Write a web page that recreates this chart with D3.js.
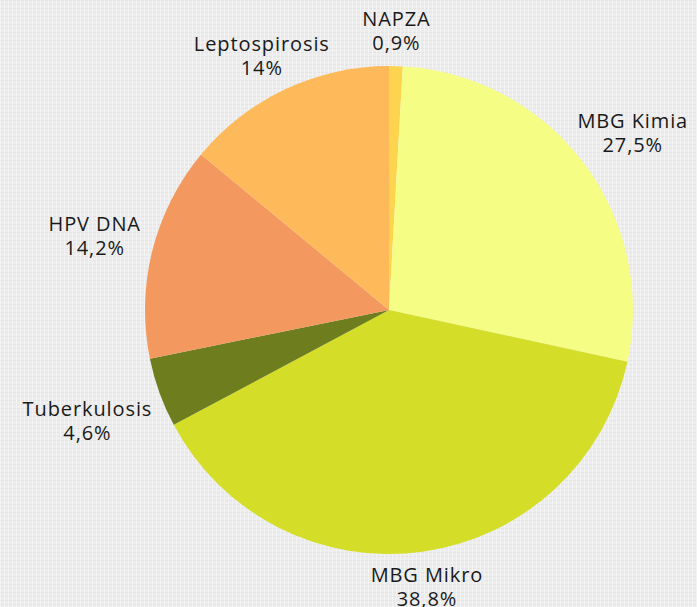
<!DOCTYPE html>
<html>
<head>
<meta charset="utf-8">
<script src="https://cdn.jsdelivr.net/npm/d3@7"></script>
<style>
  html, body { margin: 0; padding: 0; background: #ececec; }
  #chart { width: 697px; height: 607px; }
  text { font-family: "Open Sans", "DejaVu Sans", sans-serif; fill: #1a1a1a; }
</style>
</head>
<body>
<div id="chart"></div>
<script>
// slices in drawing order, clockwise from 12 o'clock
const labels = ["NAPZA", "MBG Kimia", "MBG Mikro", "Tuberkulosis", "HPV DNA", "Leptospirosis"];
const values = [0.9, 27.5, 38.8, 4.6, 14.2, 14];
const pctText = ["0,9%", "27,5%", "38,8%", "4,6%", "14,2%", "14%"];
const colors = ["#fed44f", "#f5fd84", "#d4de28", "#6e7d1d", "#f3995f", "#fdb95a"];

let w = 697, h = 607;
let cx = 389, cy = 310, r = 244;

var svg = d3.select("#chart")
  .append("svg")
  .attr("width", w)
  .attr("height", h);

// paper-ish background texture
var defs = svg.append("defs");
var pat = defs.append("pattern")
  .attr("id", "paper")
  .attr("width", 4).attr("height", 4)
  .attr("patternUnits", "userSpaceOnUse");
pat.append("rect").attr("width", 4).attr("height", 4).attr("fill", "#ededed");
pat.append("rect").attr("width", 4).attr("height", 1).attr("fill", "#e4e4e4");
pat.append("rect").attr("width", 1).attr("height", 4).attr("fill", "#f3f3f3");
svg.append("rect").attr("width", w).attr("height", h).attr("fill", "url(#paper)");

var data = labels.map((l, i) => ({label: l, value: values[i], pct: pctText[i], color: colors[i]}));

var pie = d3.pie().sort(null).value(d => d.value);
var arc = d3.arc().innerRadius(0).outerRadius(r);

var g = svg.append("g").attr("transform", `translate(${cx},${cy})`);

var arcs = pie(data);

g.selectAll("path.slice")
  .data(arcs)
  .enter().append("path")
  .attr("class", "slice")
  .attr("d", arc)
  .attr("fill", d => d.data.color);

// labels outside the pie
let fs = 20, lh = 24, R = 258;
arcs.forEach(a => {
  let mid = (a.startAngle + a.endAngle) / 2;
  let s = Math.sin(mid), c = -Math.cos(mid);
  var t = g.append("text")
    .attr("text-anchor", "middle")
    .style("font-size", fs + "px")
    .style("letter-spacing", "0.9px");
  t.append("tspan").attr("x", 0).attr("dy", 0).text(a.data.label);
  t.append("tspan").attr("x", 0).attr("dy", lh).text(a.data.pct);
  let bw = t.node().getBBox().width;
  let bh = lh * 2;
  let bx = R * s + (bw / 2) * Math.sign(s) * Math.pow(Math.abs(s), 1.6);
  let by = R * c + (bh / 2) * Math.sign(c) * Math.min(1, Math.abs(c) * 2.5);
  // first baseline sits above the box centre; keep the second line near the bottom edge
  let ty = Math.min(by - lh / 2 + fs * 0.35 + 3, h - cy - lh - 1);
  t.attr("transform", `translate(${bx},${ty})`);
});
</script>
</body>
</html>
